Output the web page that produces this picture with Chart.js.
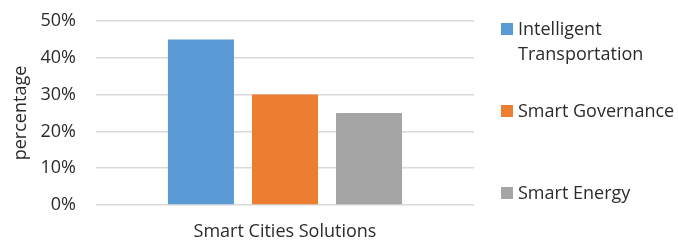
<!DOCTYPE html>
<html>
<head>
<meta charset="utf-8">
<script src="https://cdn.jsdelivr.net/npm/chart.js@4"></script>
<style>
  html, body { margin: 0; padding: 0; background: #fff; }
  #wrap { width: 678px; height: 241px; }
</style>
</head>
<body>
<div id="wrap"><canvas id="myChart" width="678" height="241"></canvas></div>
<script>
const categories = ['Smart Cities Solutions'];
const seriesNames = [['Intelligent', 'Transportation'], ['Smart Governance'], ['Smart Energy']];
const seriesValues = [45, 30, 25];
const seriesColors = ['#5B9BD5', '#ED7D31', '#A5A5A5'];
const yTicks = [0, 10, 20, 30, 40, 50];

const FONT = '"Open Sans", sans-serif';
const SIZE = 18;
const TEXT = '#2b2b2b';

// legend on the right, items spread over the plot height
const sideLegend = {
    id: 'sideLegend',
    afterDraw(chart) {
        const ctx = chart.ctx;
        const area = chart.chartArea;
        const x = 501;
        const step = 82;
        ctx.save();
        ctx.font = SIZE + 'px ' + FONT;
        ctx.textBaseline = 'middle';
        chart.data.datasets.forEach((ds, i) => {
            const y = area.top + 8 + i * step;
            ctx.fillStyle = ds.backgroundColor;
            ctx.fillRect(x, y - 6, 12, 12);
            ctx.fillStyle = TEXT;
            const lines = Array.isArray(ds.label) ? ds.label : [ds.label];
            lines.forEach((t, j) => ctx.fillText(t, x + 17, y + 1 + j * 25));
        });
        ctx.restore();
    }
};

new Chart(document.getElementById('myChart').getContext('2d'), {
    type: 'bar',
    data: {
        labels: categories,
        datasets: seriesNames.map((name, i) => ({
            label: name,
            data: [seriesValues[i]],
            backgroundColor: seriesColors[i],
            borderWidth: 0,
        })),
    },
    options: {
        responsive: false,
        animation: false,
        categoryPercentage: 0.667,
        barPercentage: 0.786,
        layout: { padding: { top: 21, right: 204, left: 0, bottom: 0 } },
        plugins: {
            legend: { display: false },
            tooltip: { enabled: false },
        },
        scales: {
            x: {
                grid: { display: false },
                border: { display: false },
                ticks: { color: TEXT, font: { family: FONT, size: SIZE }, padding: 8 },
                afterFit: s => { s.height = 36; s.paddingLeft = 0; s.paddingRight = 0; },
            },
            y: {
                min: 0,
                max: 50,
                afterBuildTicks: s => { s.ticks = yTicks.map(v => ({ value: v })); },
                grid: { color: '#D9D9D9', lineWidth: 1.5, drawTicks: false },
                border: { display: false },
                ticks: {
                    color: TEXT,
                    font: { family: FONT, size: SIZE },
                    padding: 20,
                    callback: v => v + '%',
                },
                title: {
                    display: true,
                    text: 'percentage',
                    color: TEXT,
                    font: { family: FONT, size: SIZE },
                    padding: { top: 10, bottom: 0 },
                },
                afterFit: s => { s.width = 96; s.paddingTop = 0; s.paddingBottom = 0; },
            },
        },
    },
    plugins: [sideLegend],
});
</script>
</body>
</html>
